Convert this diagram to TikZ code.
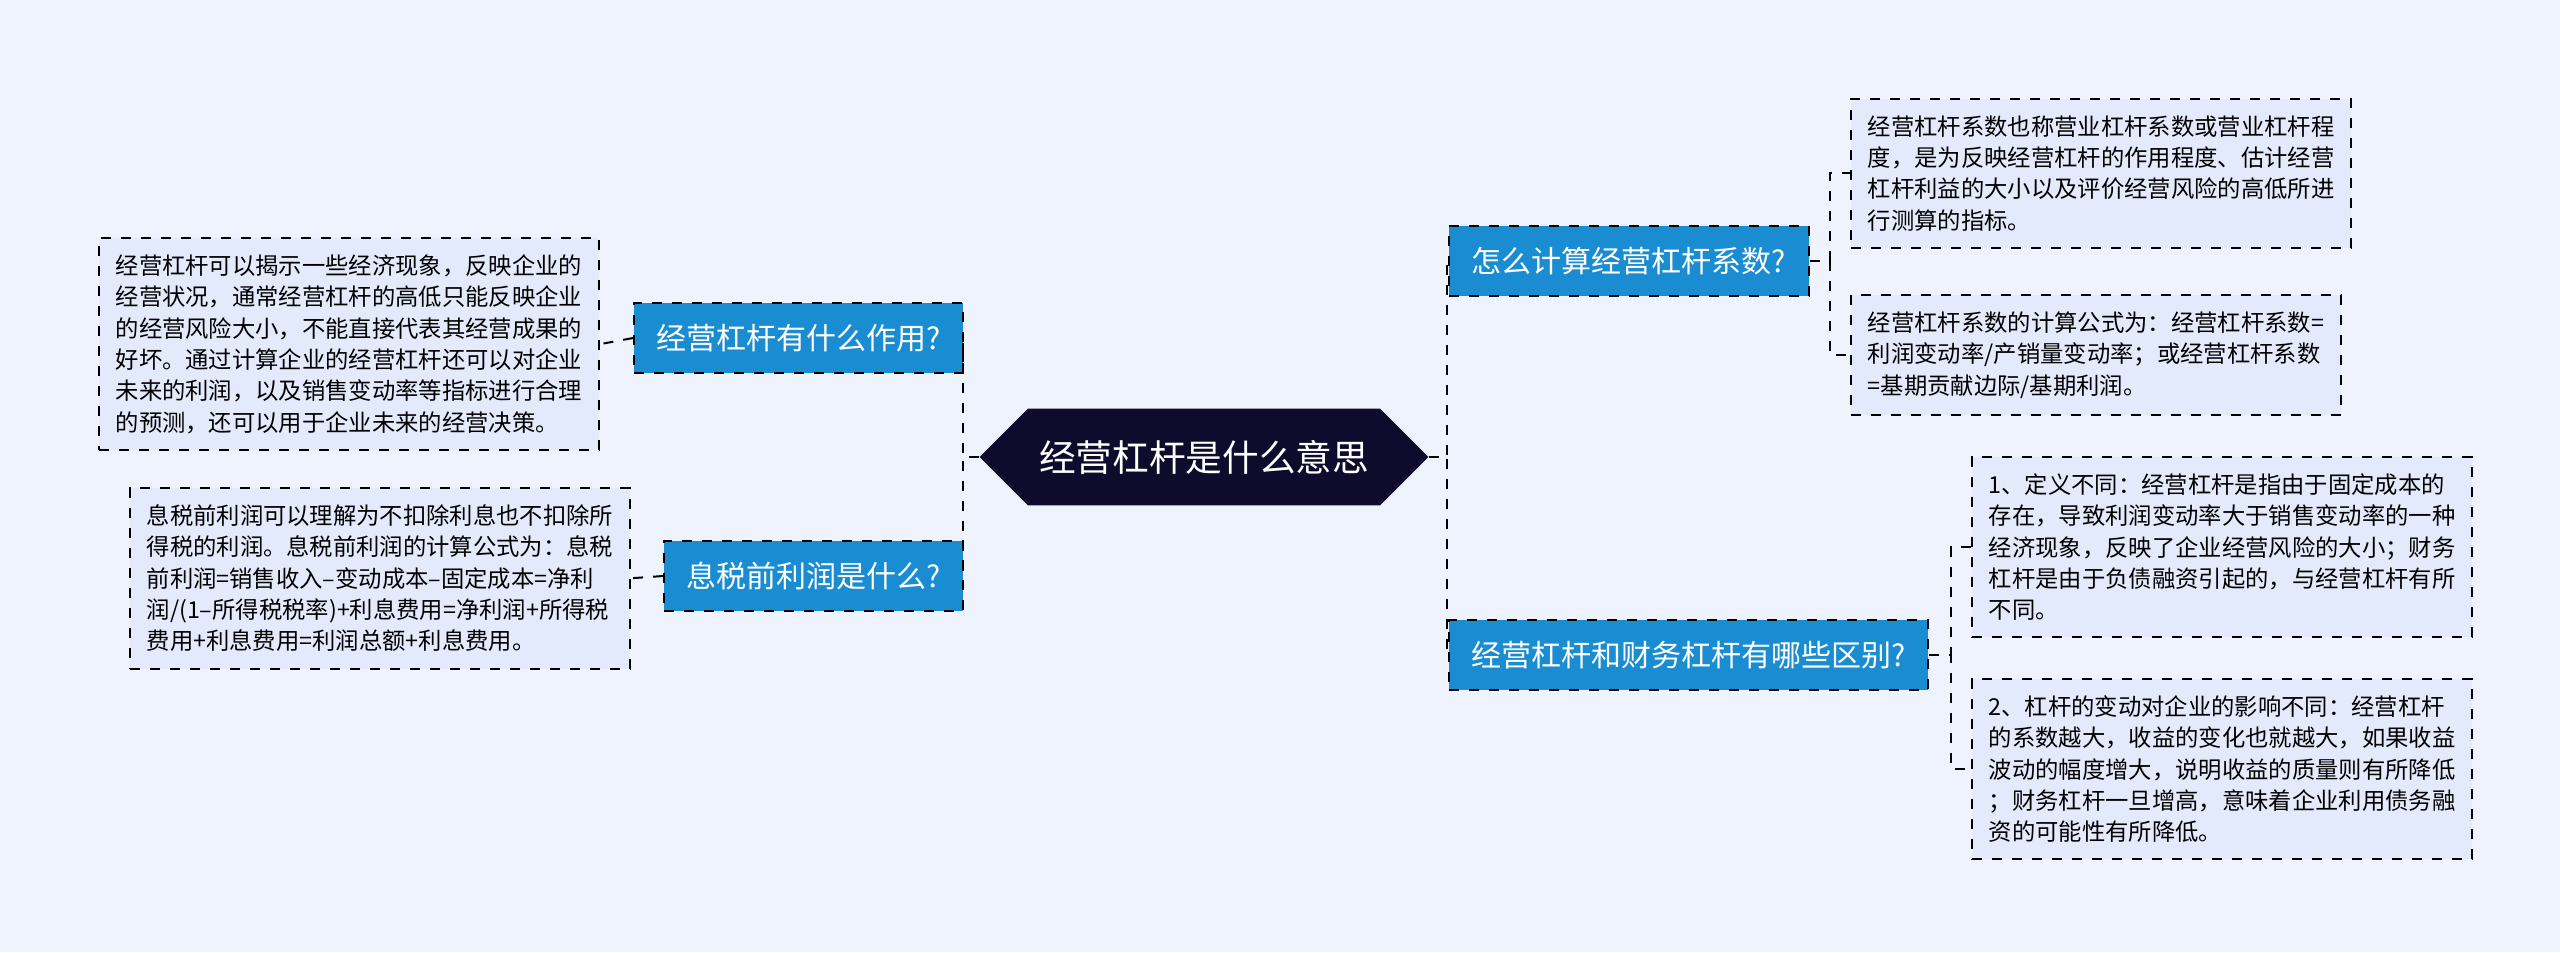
\documentclass[tikz,border=0pt]{standalone}
\usepackage{fontspec}
\setmainfont{Noto Sans CJK SC}
\usetikzlibrary{shapes.symbols}
\definecolor{bgcol}{HTML}{EEF3FD}
\definecolor{leafcol}{HTML}{E2EAFB}
\definecolor{branchcol}{HTML}{1A8DD2}
\definecolor{rootcol}{HTML}{0E0B2C}
\tikzset{
  leaf/.style={draw, dashed, fill=leafcol, line width=0.6pt, align=left, inner sep=5pt,
    font=\fontsize{7}{9.4}\selectfont, anchor=north west},
  branch/.style={draw, dashed, fill=branchcol, line width=0.6pt, text=white, inner sep=4pt,
    font=\fontsize{9}{11}\selectfont, anchor=north west, minimum height=21pt},
  link/.style={dashed, line width=0.6pt}
}
\begin{document}
\begin{tikzpicture}[x=0.3pt, y=-0.3pt]
  \fill[bgcol] (0,0) rectangle (2560,952);
  \useasboundingbox (0,0) rectangle (2560,952);
  % centre
  \node[signal, signal to=west and east, fill=rootcol, text=white, minimum width=122pt,
    minimum height=29pt, font=\fontsize{11}{13}\selectfont] (root) at (1204,457) {经营杠杆是什么意思};
  % branches
  \node[branch, minimum width=98.7pt] (b1) at (633,302) {经营杠杆有什么作用?};
  \node[branch, minimum width=89.7pt] (b2) at (663,540) {息税前利润是什么?};
  \node[branch, minimum width=108pt] (b3) at (1448,225) {怎么计算经营杠杆系数?};
  \node[branch, minimum width=143.7pt] (b4) at (1448,619) {经营杠杆和财务杠杆有哪些区别?};
  % leaves
  \node[leaf, minimum width=147pt, minimum height=61pt] (t1) at (98,237) {经营杠杆可以揭示一些经济现象，反映企业的\\经营状况，通常经营杠杆的高低只能反映企业\\的经营风险大小，不能直接代表其经营成果的\\好坏。通过计算企业的经营杠杆还可以对企业\\未来的利润，以及销售变动率等指标进行合理\\的预测，还可以用于企业未来的经营决策。};
  \node[leaf, minimum width=147pt, minimum height=52pt] (t2) at (129,487) {息税前利润可以理解为不扣除利息也不扣除所\\得税的利润。息税前利润的计算公式为：息税\\前利润=销售收入–变动成本–固定成本=净利\\润/(1–所得税税率)+利息费用=净利润+所得税\\费用+利息费用=利润总额+利息费用。};
  \node[leaf, minimum width=147pt, minimum height=43pt] (t3) at (1850,98) {经营杠杆系数也称营业杠杆系数或营业杠杆程\\度，是为反映经营杠杆的作用程度、估计经营\\杠杆利益的大小以及评价经营风险的高低所进\\行测算的指标。};
  \node[leaf, minimum width=147pt, minimum height=33pt] (t4) at (1850,294) {经营杠杆系数的计算公式为：经营杠杆系数=\\利润变动率/产销量变动率；或经营杠杆系数\\=基期贡献边际/基期利润。};
  \node[leaf, minimum width=147pt, minimum height=52pt] (t5) at (1971,456) {1、定义不同：经营杠杆是指由于固定成本的\\存在，导致利润变动率大于销售变动率的一种\\经济现象，反映了企业经营风险的大小；财务\\杠杆是由于负债融资引起的，与经营杠杆有所\\不同。};
  \node[leaf, minimum width=147pt, minimum height=52pt] (t6) at (1971,678) {2、杠杆的变动对企业的影响不同：经营杠杆\\的系数越大，收益的变化也就越大，如果收益\\波动的幅度增大，说明收益的质量则有所降低\\；财务杠杆一旦增高，意味着企业利用债务融\\资的可能性有所降低。};
  % links
  \draw[link] (root.west) -- ++(-16,0) |- (b1.east);
  \draw[link] (root.west) -- ++(-16,0) |- (b2.east);
  \draw[link] (root.east) -- ++(18,0) |- (b3.west);
  \draw[link] (root.east) -- ++(18,0) |- (b4.west);
  \draw[link] (b1.west) -- (t1.east);
  \draw[link] (b2.west) -- (t2.east);
  \draw[link] (b3.east) -- ++(20,0) |- (t3.west);
  \draw[link] (b3.east) -- ++(20,0) |- (t4.west);
  \draw[link] (b4.east) -- ++(22,0) |- (t5.west);
  \draw[link] (b4.east) -- ++(22,0) |- (t6.west);
\end{tikzpicture}
\end{document}
